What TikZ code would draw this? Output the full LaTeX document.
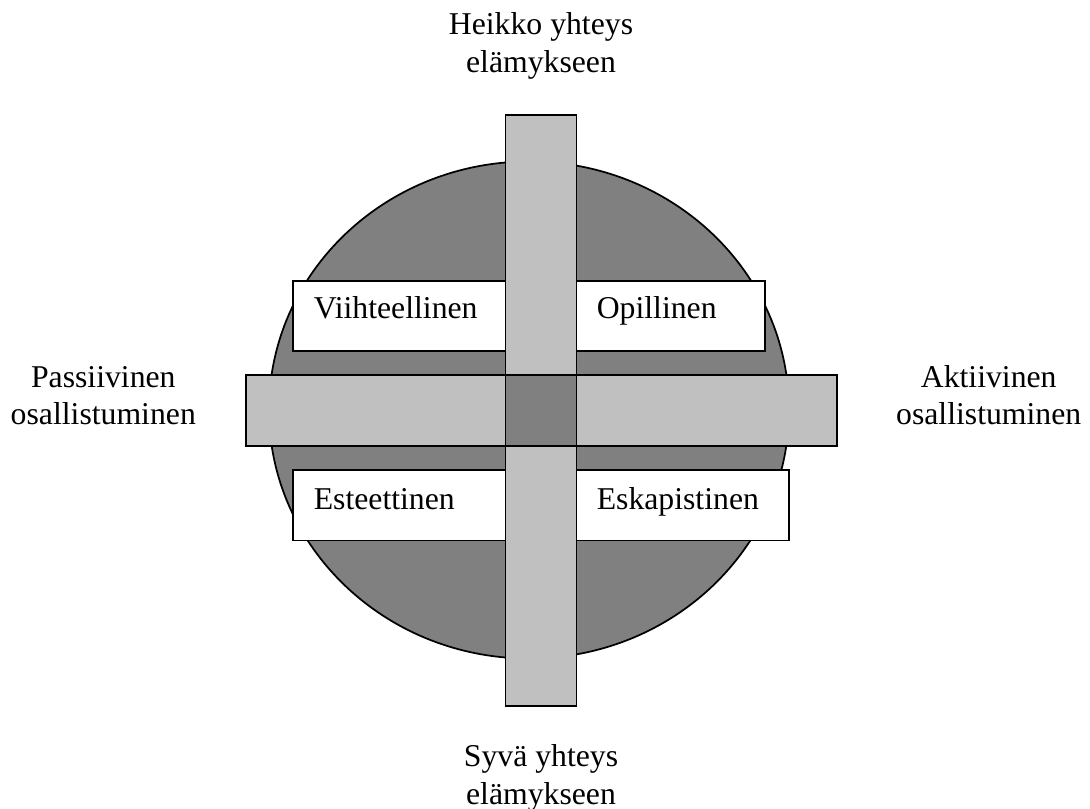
\documentclass[tikz,border=0pt]{standalone}
\usepackage{fontspec}
\setmainfont{Liberation Serif}
\definecolor{circgray}{HTML}{808080}
\definecolor{bargray}{HTML}{C0C0C0}
\begin{document}
\begin{tikzpicture}[x=0.75pt,y=-0.75pt,
  outline/.style={draw=black,line width=1.3pt},
  wbox/.style={outline,fill=white},
  gbar/.style={outline,fill=bargray},
  lbl/.style={inner sep=0pt,anchor=base,align=center,font=\fontsize{23.8pt}{28.3pt}\selectfont},
  btxt/.style={inner sep=0pt,anchor=base west,font=\fontsize{23.8pt}{28.3pt}\selectfont}]
\useasboundingbox (0,0) rectangle (1090,809);
% circle
\draw[outline,fill=circgray] (529,410) ellipse [x radius=260,y radius=248.5];
% white boxes
\draw[wbox] (292.7,280.7) rectangle (541,350.7);
\draw[wbox] (541,280.7) rectangle (765.3,350.7);
\draw[wbox] (292.7,470) rectangle (541,540.5);
\draw[wbox] (541,470) rectangle (789.3,540.5);
% bars
\draw[gbar] (505.5,115) rectangle (576.5,706);
\draw[gbar] (245.7,375.3) rectangle (836.7,445.7);
\draw[outline,fill=circgray] (505.5,375.3) rectangle (576.5,445.7);
% box texts
\node[btxt] (viih) at (313.5,319) {Viihteellinen};
\node[btxt] (opil) at (596.5,319) {Opillinen};
\node[btxt] (este) at (313.5,509.5) {Esteettinen};
\node[btxt] (eska) at (596.5,509.5) {Eskapistinen};
% outer labels (base anchor = last line baseline)
\node[lbl] (heikko) at (541,72.7) {Heikko yhteys\\elämykseen};
\node[lbl] (syva) at (541,804.2) {Syvä yhteys\\elämykseen};
\node[lbl] (passiiv) at (103.3,425) {Passiivinen\\osallistuminen};
\node[lbl] (aktiiv) at (988.7,425) {Aktiivinen\\osallistuminen};
\end{tikzpicture}
\end{document}
